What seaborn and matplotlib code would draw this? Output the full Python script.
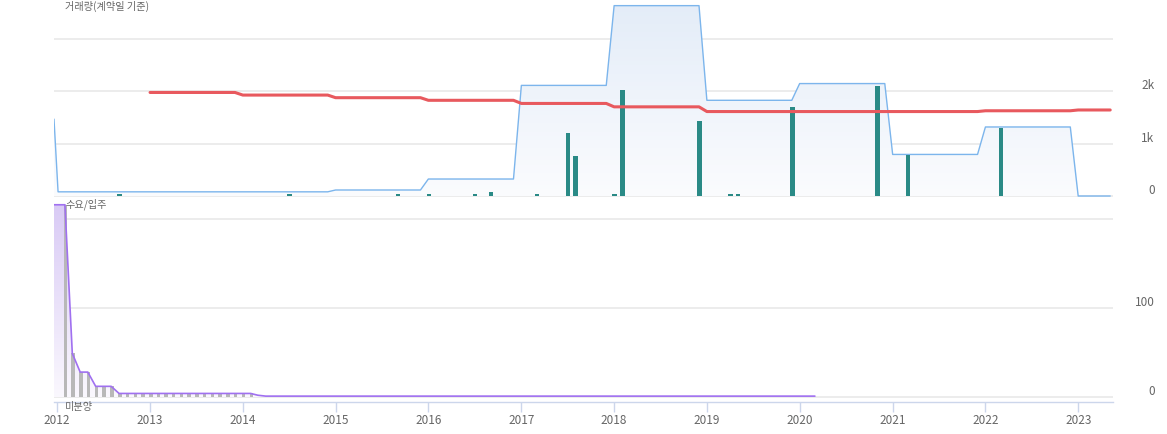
import numpy as np
import pandas as pd
import matplotlib
matplotlib.use('Agg')
import matplotlib.pyplot as plt
import matplotlib.dates as mdates
from matplotlib.colors import to_rgba
import seaborn as sns

# 거래량 추세선 (파란 영역)
blue_dates = ['2011-12-20', '2012-01-05', '2014-12-01', '2015-01-01', '2015-12-01', '2016-01-01',
              '2016-12-01', '2017-01-01', '2017-12-01', '2018-01-01', '2018-12-01', '2019-01-01',
              '2019-12-01', '2020-01-01', '2020-12-01', '2021-01-01', '2021-12-01', '2022-01-01',
              '2022-12-01', '2023-01-01', '2023-05-07']
blue_vals = [1470, 80, 80, 115, 115, 325, 325, 2115, 2115, 3640, 3640, 1830, 1830, 2150, 2150,
             795, 795, 1320, 1320, 0, 0]

# 빨간 선
red_dates = ['2013-01-01', '2013-12-01', '2014-01-01', '2014-12-01', '2015-01-01', '2015-12-01',
             '2016-01-01', '2016-12-01', '2017-01-01', '2017-12-01', '2018-01-01', '2018-12-01',
             '2019-01-01', '2021-12-01', '2022-01-01', '2022-12-01', '2023-01-01', '2023-05-07']
red_vals = [1980, 1980, 1930, 1930, 1880, 1880, 1830, 1830, 1770, 1770, 1705, 1705,
            1615, 1615, 1630, 1630, 1645, 1645]

# 월별 거래량 막대
trade_dates = ['2012-09-03', '2014-07-03', '2015-09-03', '2016-01-03', '2016-07-03', '2016-09-03',
               '2017-03-03', '2017-07-03', '2017-08-03', '2018-01-03', '2018-02-03', '2018-12-03',
               '2019-04-03', '2019-05-03', '2019-12-03', '2020-11-03', '2021-03-03', '2022-03-03']
trade_vals = [45, 30, 30, 30, 30, 70, 30, 1210, 770, 30, 2020, 1425, 30, 30, 1700, 2110, 790, 1310]

# 미분양 추세선 (보라)
unsold_dates = ['2011-12-20', '2012-02-01', '2012-03-01', '2012-04-01', '2012-05-01', '2012-06-01',
                '2012-08-01', '2012-09-01', '2014-02-01', '2014-03-01', '2014-04-01', '2020-03-01']
unsold_vals = [216, 216, 49, 28, 28, 12, 12, 4, 4, 2, 1, 1]

# 월별 미분양 막대
unsold_bar_dates = pd.date_range('2012-02-01', '2014-02-01', freq='MS') + pd.Timedelta(days=3)
unsold_bar_vals = [216, 49, 28, 28, 12, 12, 12, 4, 4, 4, 4, 4, 4, 4, 4, 4, 4, 4, 4, 4, 4, 4, 4, 4, 4]

sns.set_theme(style='white')
plt.rcParams['font.family'] = ['Noto Sans CJK KR', 'DejaVu Sans']

W, H = 1167, 435
fig = plt.figure(figsize=(W / 100, H / 100), dpi=100)


def px_axes(left, top, right, bottom):
    return fig.add_axes([left / W, 1 - bottom / H, (right - left) / W, (bottom - top) / H])


def gradient_fill(ax, x, y, c_top, c_bot, zorder=1):
    poly = ax.fill_between(x, y, 0, color='none')
    path = poly.get_paths()[0]
    poly.remove()
    x0, x1 = ax.get_xlim()
    y0, y1 = ax.get_ylim()
    top = np.array(to_rgba(c_top))
    bot = np.array(to_rgba(c_bot))
    t = np.linspace(0, 1, 256)[:, None, None]
    grad = bot + (top - bot) * t
    im = ax.imshow(grad, extent=[x0, x1, y0, y1], origin='lower', aspect='auto',
                   interpolation='bilinear', zorder=zorder)
    im.set_clip_path(path, transform=ax.transData)
    ax.set_xlim(x0, x1)
    ax.set_ylim(y0, y1)


xlim = (pd.Timestamp('2011-12-20'), pd.Timestamp('2023-05-18'))
grid_c = '#ebebeb'
text_c = '#666666'

ax_top = px_axes(54, 0, 1113, 199)
ax_bot = px_axes(54, 199, 1113, 403)

# 상단: 거래량
bd = pd.to_datetime(blue_dates)
rd = pd.to_datetime(red_dates)
td = pd.to_datetime(trade_dates)
sns.lineplot(x=bd, y=blue_vals, ax=ax_top, color='#7cb5ec', linewidth=1, zorder=3)
ax_top.set_xlim(*xlim)
ax_top.set_ylim(-38, 3767)
gradient_fill(ax_top, bd, blue_vals, '#e3ecf8', '#fbfcfe', zorder=1)
ax_top.bar(td, trade_vals, width=18, color='#2a8a86', linewidth=0, zorder=4)
sns.lineplot(x=rd, y=red_vals, ax=ax_top, color='#e8595e', linewidth=2.2, zorder=5)
ax_top.set_yticks([0, 1000, 2000, 3000])
ax_top.set_yticklabels(['0', '1k', '2k', ''])

# 하단: 미분양
ud = pd.to_datetime(unsold_dates)
sns.lineplot(x=ud, y=unsold_vals, ax=ax_bot, color='#a070f0', linewidth=1.2, zorder=5)
ax_bot.set_xlim(*xlim)
ax_bot.set_ylim(-5.6, 223.6)
gradient_fill(ax_bot, ud, unsold_vals, '#d8c9f5', '#fbf9fe', zorder=2)
ax_bot.bar(unsold_bar_dates, unsold_bar_vals, width=14, color='#b8b8b8', linewidth=0, zorder=3)
ax_bot.set_yticks([0, 100, 200])
ax_bot.set_yticklabels(['0', '100', ''])

for ax in (ax_top, ax_bot):
    ax.set_xlabel('')
    ax.set_ylabel('')
    ax.set_facecolor('none')
    ax.grid(axis='y', color=grid_c, linewidth=1.3, zorder=0)
    ax.set_axisbelow(True)
    for s in ax.spines.values():
        s.set_visible(False)
    ax.yaxis.tick_right()
    ax.tick_params(axis='y', length=0, pad=30, labelsize=8.5, labelcolor=text_c)
    for lab in ax.get_yticklabels():
        lab.set_horizontalalignment('right')
        lab.set_verticalalignment('bottom')

ax_top.tick_params(axis='x', bottom=False, labelbottom=False)

ax_bot.spines['bottom'].set_visible(True)
ax_bot.spines['bottom'].set_color('#ccd6eb')
ax_bot.spines['bottom'].set_linewidth(1)
ax_bot.xaxis.set_major_locator(mdates.YearLocator())
ax_bot.xaxis.set_major_formatter(mdates.DateFormatter('%Y'))
ax_bot.tick_params(axis='x', bottom=True, direction='out', length=7, width=1, color='#ccd6eb',
                   labelsize=8.5, labelcolor=text_c, pad=1)

fig.text(65 / W, 1 - 6 / H, '거래량(계약일 기준)', fontsize=7.3, color=text_c, style='italic',
         ha='left', va='center')
fig.text(65 / W, 1 - 204 / H, '수요/입주', fontsize=7.3, color=text_c, style='italic',
         ha='left', va='center')
fig.text(65 / W, 1 - 407 / H, '미분양', fontsize=7.3, color=text_c, style='italic',
         ha='left', va='center')

fig.savefig('out.png', dpi=100)
